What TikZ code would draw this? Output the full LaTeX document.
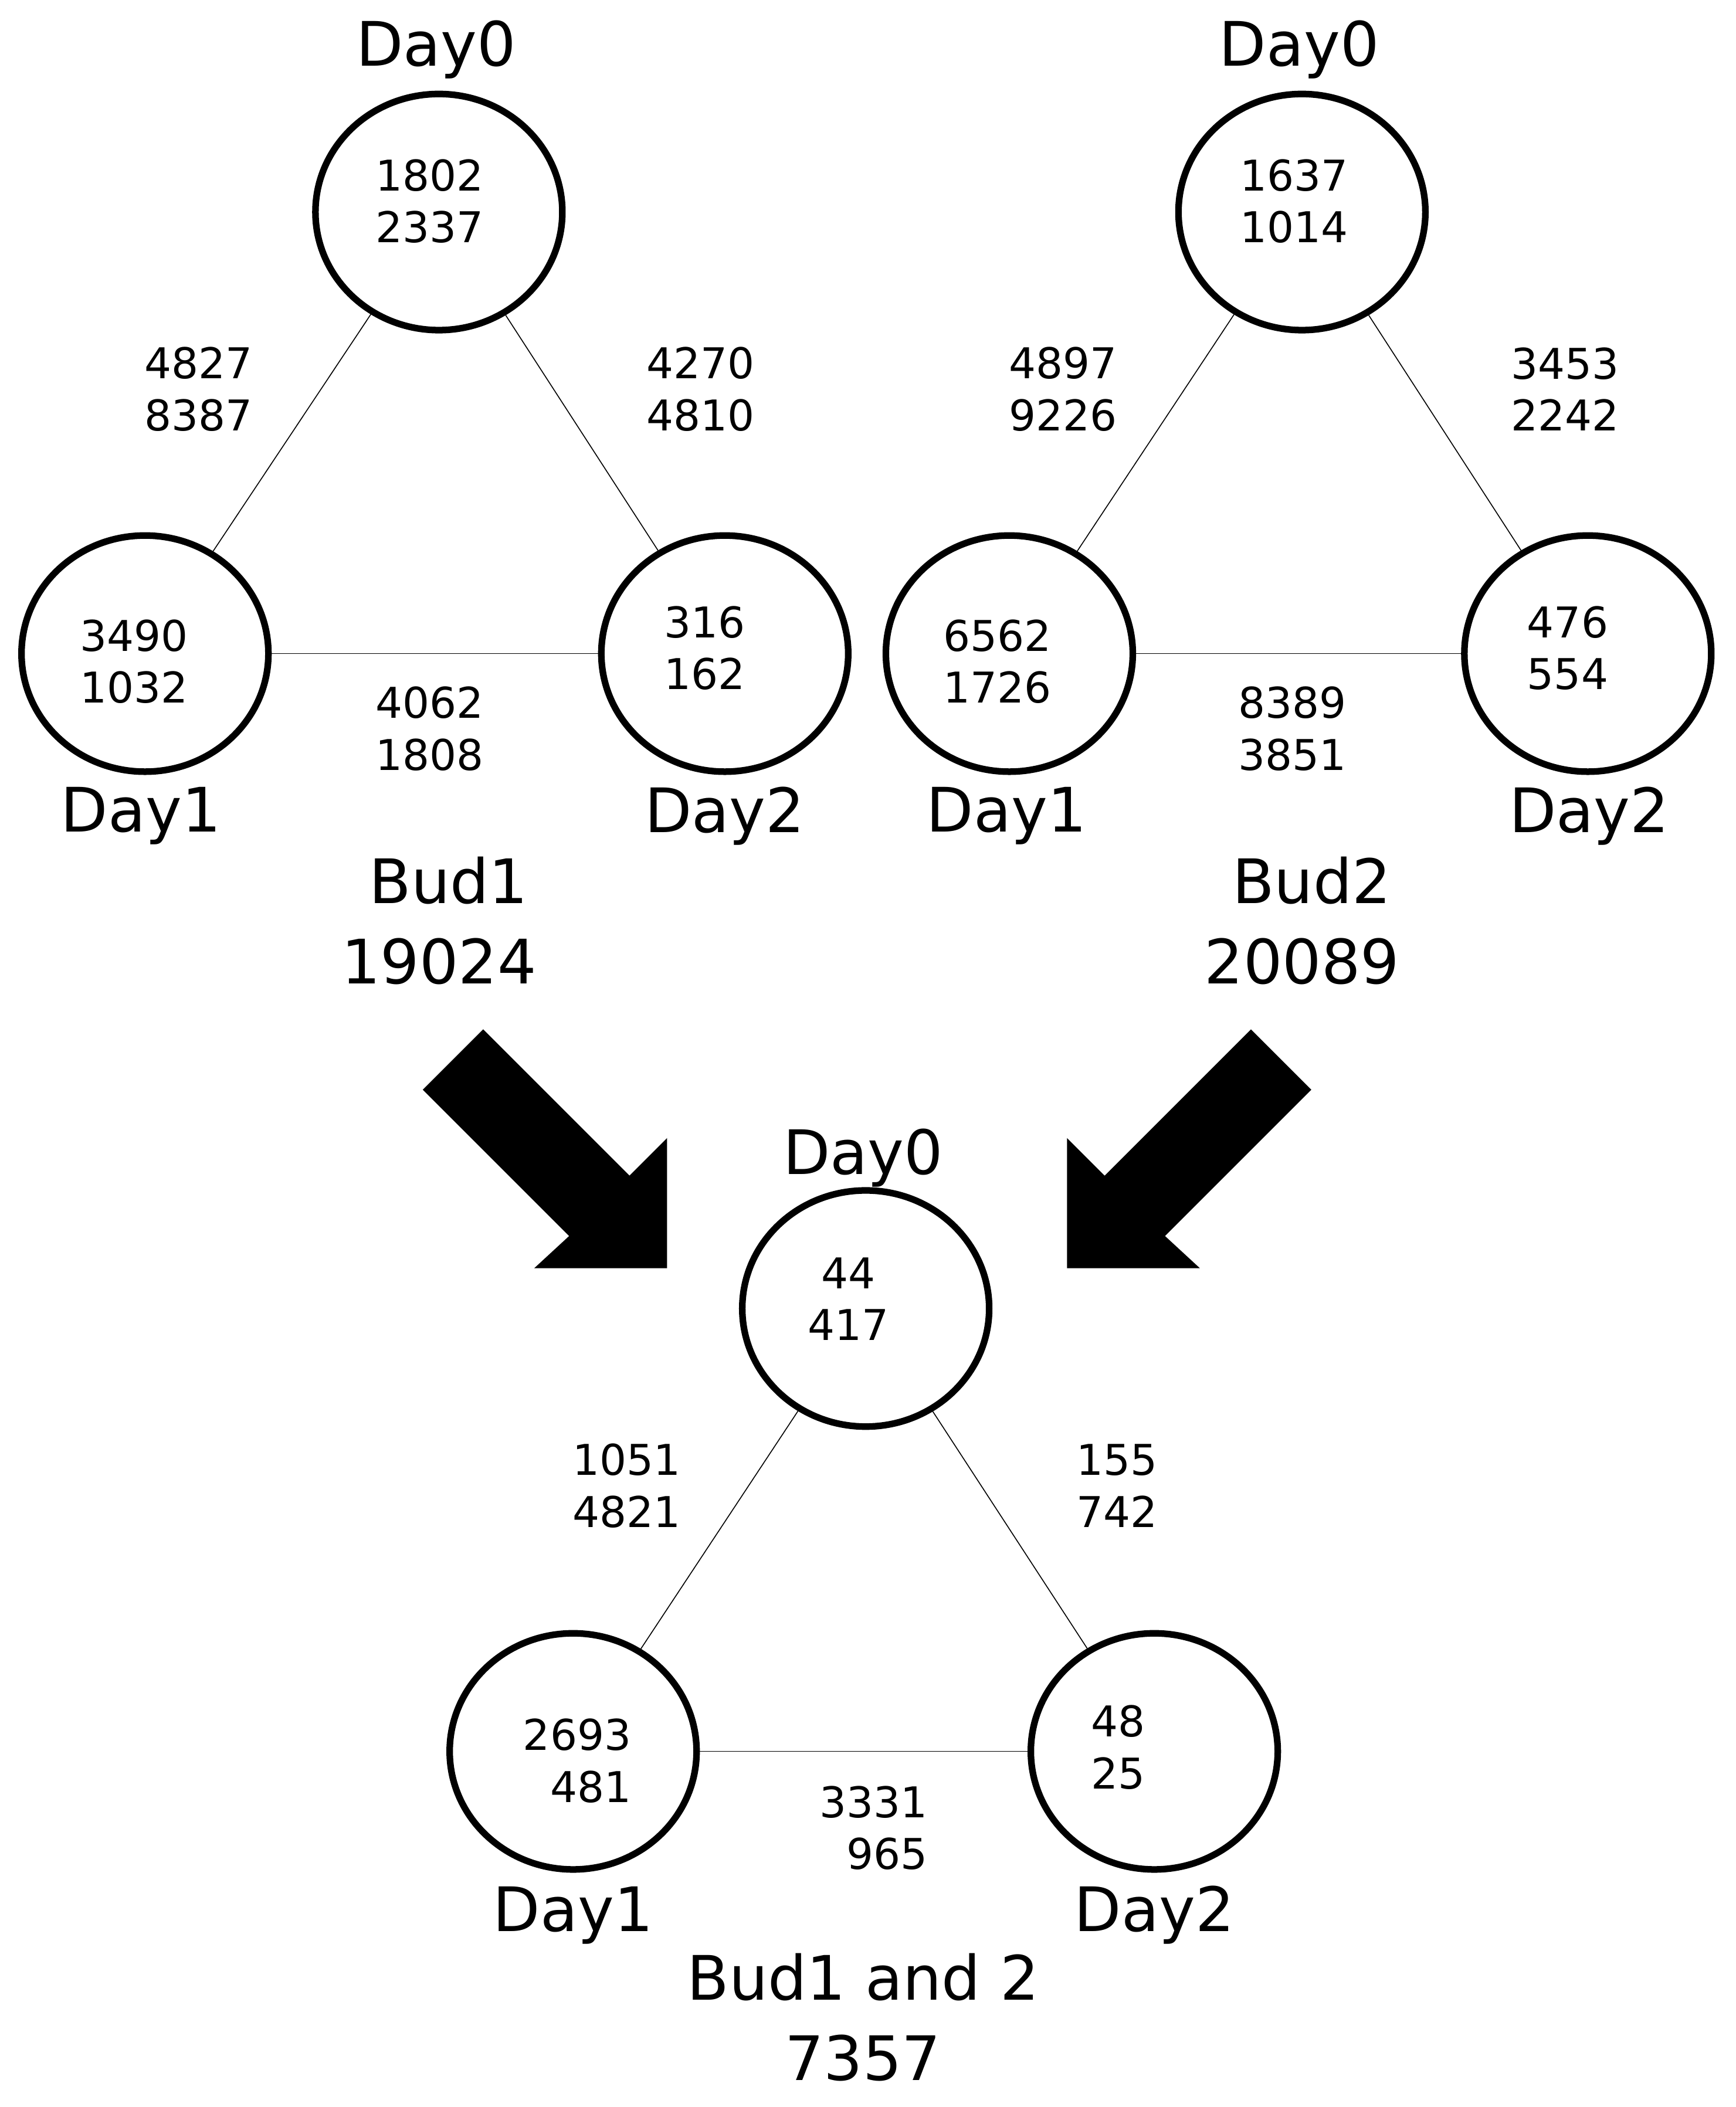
\documentclass[tikz,border=0pt]{standalone}
\usepackage{fontspec}
\setmainfont{DejaVu Sans}
\usetikzlibrary{shapes.geometric}
\begin{document}
\begin{tikzpicture}[x=0.02cm,y=-0.02cm,
  day/.style={ellipse,draw,line width=2.8pt,minimum width=3.68cm,minimum height=3.52cm,inner sep=0pt},
  num/.style={font=\fontsize{18}{22}\selectfont,align=center,inner sep=0pt},
  numr/.style={num,align=right},
  big/.style={font=\fontsize{26}{34}\selectfont,align=center,inner sep=0pt},
  edge/.style={line width=0.4pt},
  blk/.style={fill=black,draw=none}]
\useasboundingbox (0,0) rectangle (1293,1570);
% Bud1
\node[day] (a0) at (327,158) {};
\node[day] (a1) at (108,487) {};
\node[day] (a2) at (540,487) {};
\draw[edge] (a0) -- (a1); \draw[edge] (a0) -- (a2); \draw[edge] (a1) -- (a2);
\node[big] (a0l) at (325,37) {Day0};
\node[big] (a1l) at (105,608) {Day1};
\node[big] (a2l) at (540,608) {Day2};
\node[num] (a0t) at (320,150) {1802\\2337};
\node[num] (a1t) at (100,493) {3490\\1032};
\node[num] (a2t) at (525,483) {316\\162};
\node[num] (a01) at (148,290) {4827\\8387};
\node[num] (a02) at (522,290) {4270\\4810};
\node[num] (a12) at (320,543) {4062\\1808};
\node[big] (a) at (327,686) {\ Bud1\\19024};
% Bud2
\node[day] (b0) at (970,158) {};
\node[day] (b1) at (752,487) {};
\node[day] (b2) at (1183,487) {};
\draw[edge] (b0) -- (b1); \draw[edge] (b0) -- (b2); \draw[edge] (b1) -- (b2);
\node[big] (b0l) at (968,37) {Day0};
\node[big] (b1l) at (750,608) {Day1};
\node[big] (b2l) at (1184,608) {Day2};
\node[num] (b0t) at (964,150) {1637\\1014};
\node[num] (b1t) at (743,493) {6562\\1726};
\node[num] (b2t) at (1168,483) {476\\554};
\node[num] (b01) at (792,290) {4897\\9226};
\node[num] (b02) at (1166,290) {3453\\2242};
\node[num] (b12) at (963,543) {8389\\3851};
\node[big] (b) at (970,686) {\ Bud2\\20089};
% Bottom
\node[day] (c0) at (645,975) {};
\node[day] (c1) at (427,1305) {};
\node[day] (c2) at (860,1305) {};
\draw[edge] (c0) -- (c1); \draw[edge] (c0) -- (c2); \draw[edge] (c1) -- (c2);
\node[big] (c0l) at (643,863) {Day0};
\node[big] (c1l) at (427,1427) {Day1};
\node[big] (c2l) at (860,1427) {Day2};
\node[num] (c0t) at (632,968) {44\\417};
\node[numr] (c1t) at (430,1312) {2693\\481};
\node[num] (c2t) at (833,1302) {48\\25};
\node[num] (c01) at (467,1107) {1051\\4821};
\node[num] (c02) at (832,1107) {155\\742};
\node[numr] (c12) at (651,1362) {3331\\965};
\node[big] (c) at (643,1503) {Bud1 and 2\\7357};
% arrows
\fill[blk] (315,812) -- (360,767) -- (469,876) -- (497,848) -- (497,945) -- (398,945) -- (424,921) -- cycle;
\fill[blk] (977,812) -- (932,767) -- (823,876) -- (795,848) -- (795,945) -- (894,945) -- (868,921) -- cycle;
\end{tikzpicture}
\end{document}
